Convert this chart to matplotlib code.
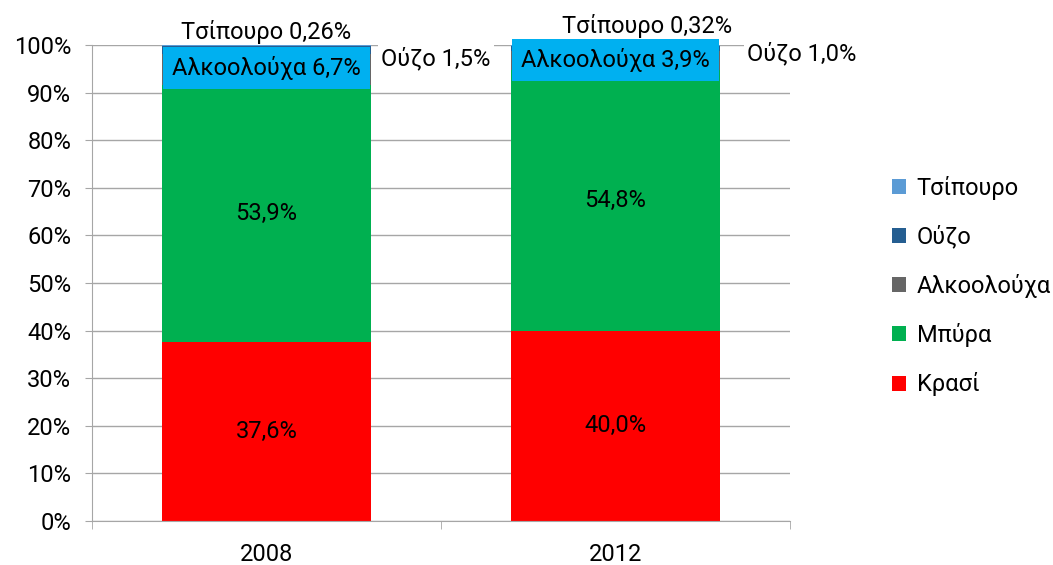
import matplotlib
matplotlib.use('Agg')
import numpy as np
from matplotlib import pyplot as plt

plt.rcParams['font.family'] = ['Roboto', 'DejaVu Sans']

years = ['2008', '2012']
series = ['Κρασί', 'Μπύρα', 'Αλκοολούχα', 'Ούζο', 'Τσίπουρο']
krasi = [37.6, 40.0]
mpyra = [53.9, 54.8]
alkoolouxa = [6.7, 3.9]
ouzo = [1.5, 1.0]
tsipouro = [0.26, 0.32]
colors = ['#FF0000', '#00B050', '#666666', '#255E91', '#5B9BD5']

values = [krasi, mpyra, alkoolouxa, ouzo, tsipouro]
grid_c = '#A6A6A6'
fs = 17

fig = plt.figure(figsize=(10.53, 5.65), dpi=100)
ax = fig.add_axes([92 / 1053, 1 - 521 / 565, (790 - 92) / 1053, (521 - 45) / 565])

x = np.arange(len(years))
bottom = np.zeros(len(years))
bars = []
for name, vals, c in zip(series, values, colors):
    b = ax.bar(x, vals, 0.6, bottom=bottom, color=c, label=name, zorder=2)
    bars.append(b)
    bottom += np.array(vals)

ax.set_xlim(-0.5, 1.5)
ax.set_ylim(0, 100)
ax.set_yticks(np.arange(0, 101, 10))
ax.set_yticklabels(['{0}%'.format(v) for v in range(0, 101, 10)], fontsize=fs)
ax.set_xticks(x)
ax.set_xticklabels(years, fontsize=fs)
ax.set_xticks([-0.5, 0.5, 1.5], minor=True)
ax.tick_params(axis='x', which='major', length=0, pad=16)
ax.tick_params(axis='x', which='minor', length=6, color=grid_c)
ax.tick_params(axis='y', length=5, color=grid_c, pad=10)
ax.yaxis.grid(True, color=grid_c, lw=1, zorder=0)
ax.set_axisbelow(True)
for s in ['top', 'right']:
    ax.spines[s].set_visible(False)
for s in ['left', 'bottom']:
    ax.spines[s].set_color(grid_c)

# value labels inside the big segments
for i in range(len(years)):
    ax.text(x[i], krasi[i] / 2, '{0:.1f}%'.format(krasi[i]).replace('.', ','),
            ha='center', va='center', fontsize=fs, zorder=3)
    ax.text(x[i], krasi[i] + mpyra[i] / 2, '{0:.1f}%'.format(mpyra[i]).replace('.', ','),
            ha='center', va='center', fontsize=fs, zorder=3)

# small segments: call-out labels
alk_y = [95.1, 96.8]
for i in range(len(years)):
    ax.text(x[i], alk_y[i], 'Αλκοολούχα {0:.1f}%'.format(alkoolouxa[i]).replace('.', ','),
            ha='center', va='center', fontsize=fs, zorder=4,
            bbox=dict(boxstyle='square,pad=0.38', fc='#00B0F0', ec='none'))

ax.text(0.486, 97.1, 'Ούζο {0:.1f}%'.format(ouzo[0]).replace('.', ','), ha='center', va='center',
        fontsize=fs, zorder=4, bbox=dict(boxstyle='square,pad=0.15', fc='white', ec='none'))
ax.text(1.534, 98.3, 'Ούζο {0:.1f}%'.format(ouzo[1]).replace('.', ','), ha='center', va='center',
        fontsize=fs, zorder=4, bbox=dict(boxstyle='square,pad=0.15', fc='white', ec='none'))
ax.text(0.0, 102.8, 'Τσίπουρο {0}%'.format(tsipouro[0]).replace('.', ','), ha='center', va='center',
        fontsize=fs, zorder=4, clip_on=False)
ax.text(1.09, 104.0, 'Τσίπουρο {0}%'.format(tsipouro[1]).replace('.', ','), ha='center', va='center',
        fontsize=fs, zorder=4, clip_on=False)

handles = bars[::-1]
fig.legend(handles, series[::-1], loc='center left', bbox_to_anchor=(892 / 1053, 1 - 286 / 565),
           frameon=False, fontsize=fs, handlelength=0.6, handleheight=0.6,
           handletextpad=0.45, labelspacing=1.07, borderpad=0, borderaxespad=0)

fig.savefig('out.png', dpi=100)
